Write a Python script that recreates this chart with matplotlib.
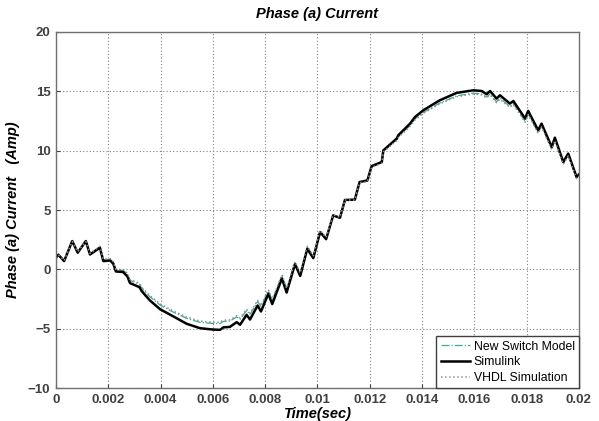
import matplotlib
matplotlib.use('Agg')
import matplotlib.pyplot as plt

# time (s) and phase (a) current (A)
t = [0, 0.00009, 0.00031, 0.00062, 0.00083, 0.00114, 0.00130, 0.00168, 0.00181,
     0.00207, 0.00219, 0.00229, 0.00257, 0.00273, 0.00283, 0.00319, 0.00328,
     0.00359, 0.00398, 0.00449, 0.00500, 0.00551, 0.00599, 0.00627, 0.00640,
     0.00665, 0.00691, 0.00704, 0.00729, 0.00742, 0.00771, 0.00784, 0.00812,
     0.00827, 0.00864, 0.00882, 0.00914, 0.00934, 0.00961, 0.00984, 0.01010,
     0.01033, 0.01060, 0.01086, 0.01105, 0.01143, 0.01161, 0.01191, 0.01207,
     0.01246, 0.01252, 0.01303, 0.01309, 0.01354, 0.01373, 0.01405, 0.01468,
     0.01532, 0.01596, 0.01628, 0.01647, 0.01660, 0.01685, 0.01698, 0.01736,
     0.01749, 0.01794, 0.01806, 0.01844, 0.01857, 0.01896, 0.01908, 0.01940,
     0.01959, 0.01991, 0.02]

simulink = [0.99, 1.24, 0.70, 2.39, 1.41, 2.39, 1.26, 1.83, 0.70,
            0.76, 0.48, -0.17, -0.22, -0.59, -1.15, -1.49, -1.83,
            -2.61, -3.35, -3.96, -4.58, -4.95, -5.06, -5.09, -4.88,
            -4.84, -4.44, -4.66, -3.82, -4.22, -3.04, -3.54, -2.05,
            -2.92, -0.75, -1.95, 0.45, -0.55, 1.74, 0.95, 3.15,
            2.55, 4.55, 4.35, 5.85, 5.88, 7.36, 7.50, 8.70,
            9.05, 10.03, 11.02, 11.30, 12.28, 12.84, 13.41, 14.25,
            14.87, 15.09, 15.03, 14.76, 15.03, 14.39, 14.67, 13.97,
            14.19, 12.71, 13.35, 11.72, 12.28, 10.31, 11.10, 9.05,
            9.76, 7.78, 8.00]

vhdl = [0.99, 1.24, 0.75, 2.35, 1.50, 2.35, 1.35, 1.95, 0.85,
        0.90, 0.65, 0.00, -0.02, -0.30, -0.85, -1.15, -1.50,
        -2.20, -2.90, -3.50, -4.00, -4.35, -4.45, -4.45, -4.28,
        -4.25, -3.90, -4.10, -3.35, -3.70, -2.60, -3.05, -1.70,
        -2.50, -0.45, -1.60, 0.65, -0.30, 1.95, 1.15, 3.30,
        2.70, 4.60, 4.40, 5.85, 5.85, 7.30, 7.40, 8.60,
        8.95, 9.90, 10.85, 11.10, 12.05, 12.60, 13.15, 13.95,
        14.55, 14.78, 14.70, 14.45, 14.70, 14.05, 14.35, 13.65,
        13.90, 12.40, 13.05, 11.45, 12.00, 10.10, 10.85, 8.85,
        9.55, 7.65, 7.85]

new_switch = [0.99, 1.22, 0.74, 2.36, 1.47, 2.36, 1.32, 1.92, 0.82,
              0.88, 0.60, -0.05, -0.08, -0.38, -0.92, -1.24, -1.58,
              -2.30, -3.00, -3.60, -4.12, -4.46, -4.55, -4.56, -4.38,
              -4.35, -4.00, -4.20, -3.45, -3.80, -2.70, -3.15, -1.80,
              -2.60, -0.52, -1.68, 0.60, -0.38, 1.90, 1.10, 3.25,
              2.65, 4.58, 4.38, 5.85, 5.86, 7.32, 7.44, 8.62,
              8.98, 9.95, 10.90, 11.16, 12.12, 12.68, 13.22, 14.02,
              14.62, 14.85, 14.78, 14.52, 14.78, 14.12, 14.42, 13.72,
              13.97, 12.48, 13.12, 11.52, 12.08, 10.16, 10.92, 8.90,
              9.62, 7.70, 7.90]

xticks = [0, 0.002, 0.004, 0.006, 0.008, 0.01, 0.012, 0.014, 0.016, 0.018, 0.02]
xticklabels = ['0', '0.002', '0.004', '0.006', '0.008', '0.01', '0.012',
               '0.014', '0.016', '0.018', '0.02']
yticks = [-10, -5, 0, 5, 10, 15, 20]

plt.rcParams['font.family'] = ['Liberation Sans', 'DejaVu Sans']

fig = plt.figure(figsize=(5.99, 4.21), dpi=100)
ax = fig.add_axes([0.0935, 0.078, 0.873, 0.846])

ax.plot(t, new_switch, color='#3fa89a', linestyle='-.', linewidth=0.9, label='New Switch Model')
ax.plot(t, simulink, color='black', linestyle='-', linewidth=1.8, label='Simulink')
ax.plot(t, vhdl, color='#909090', linestyle=':', linewidth=1.1, label='VHDL Simulation')

ax.set_xlim(0, 0.02)
ax.set_ylim(-10, 20)
ax.set_xticks(xticks)
ax.set_xticklabels(xticklabels)
ax.set_yticks(yticks)
ax.grid(True, linestyle=(0, (1, 2)), color='#808080', linewidth=0.8)
ax.tick_params(direction='in', length=3, labelsize=9.5, colors='#404040', pad=4)
for lbl in ax.get_xticklabels() + ax.get_yticklabels():
    lbl.set_fontweight('bold')
for s in ax.spines.values():
    s.set_color('#707070')
    s.set_linewidth(1.0)

ax.set_title('Phase (a) Current', fontsize=10.5, fontweight='bold', fontstyle='italic', pad=10)
ax.set_xlabel('Time(sec)', fontsize=10.5, fontweight='bold', fontstyle='italic', labelpad=1)
ax.set_ylabel('Phase (a) Current   (Amp)', fontsize=10.5, fontweight='bold', fontstyle='italic', labelpad=6)

leg = ax.legend(loc='lower right', fontsize=8.8, fancybox=False, framealpha=1,
                edgecolor='#404040', handlelength=2.4, handletextpad=0.3,
                borderpad=0.35, labelspacing=0.3, borderaxespad=0.0)
leg.get_frame().set_linewidth(1.0)

fig.savefig('out.png', dpi=100)
